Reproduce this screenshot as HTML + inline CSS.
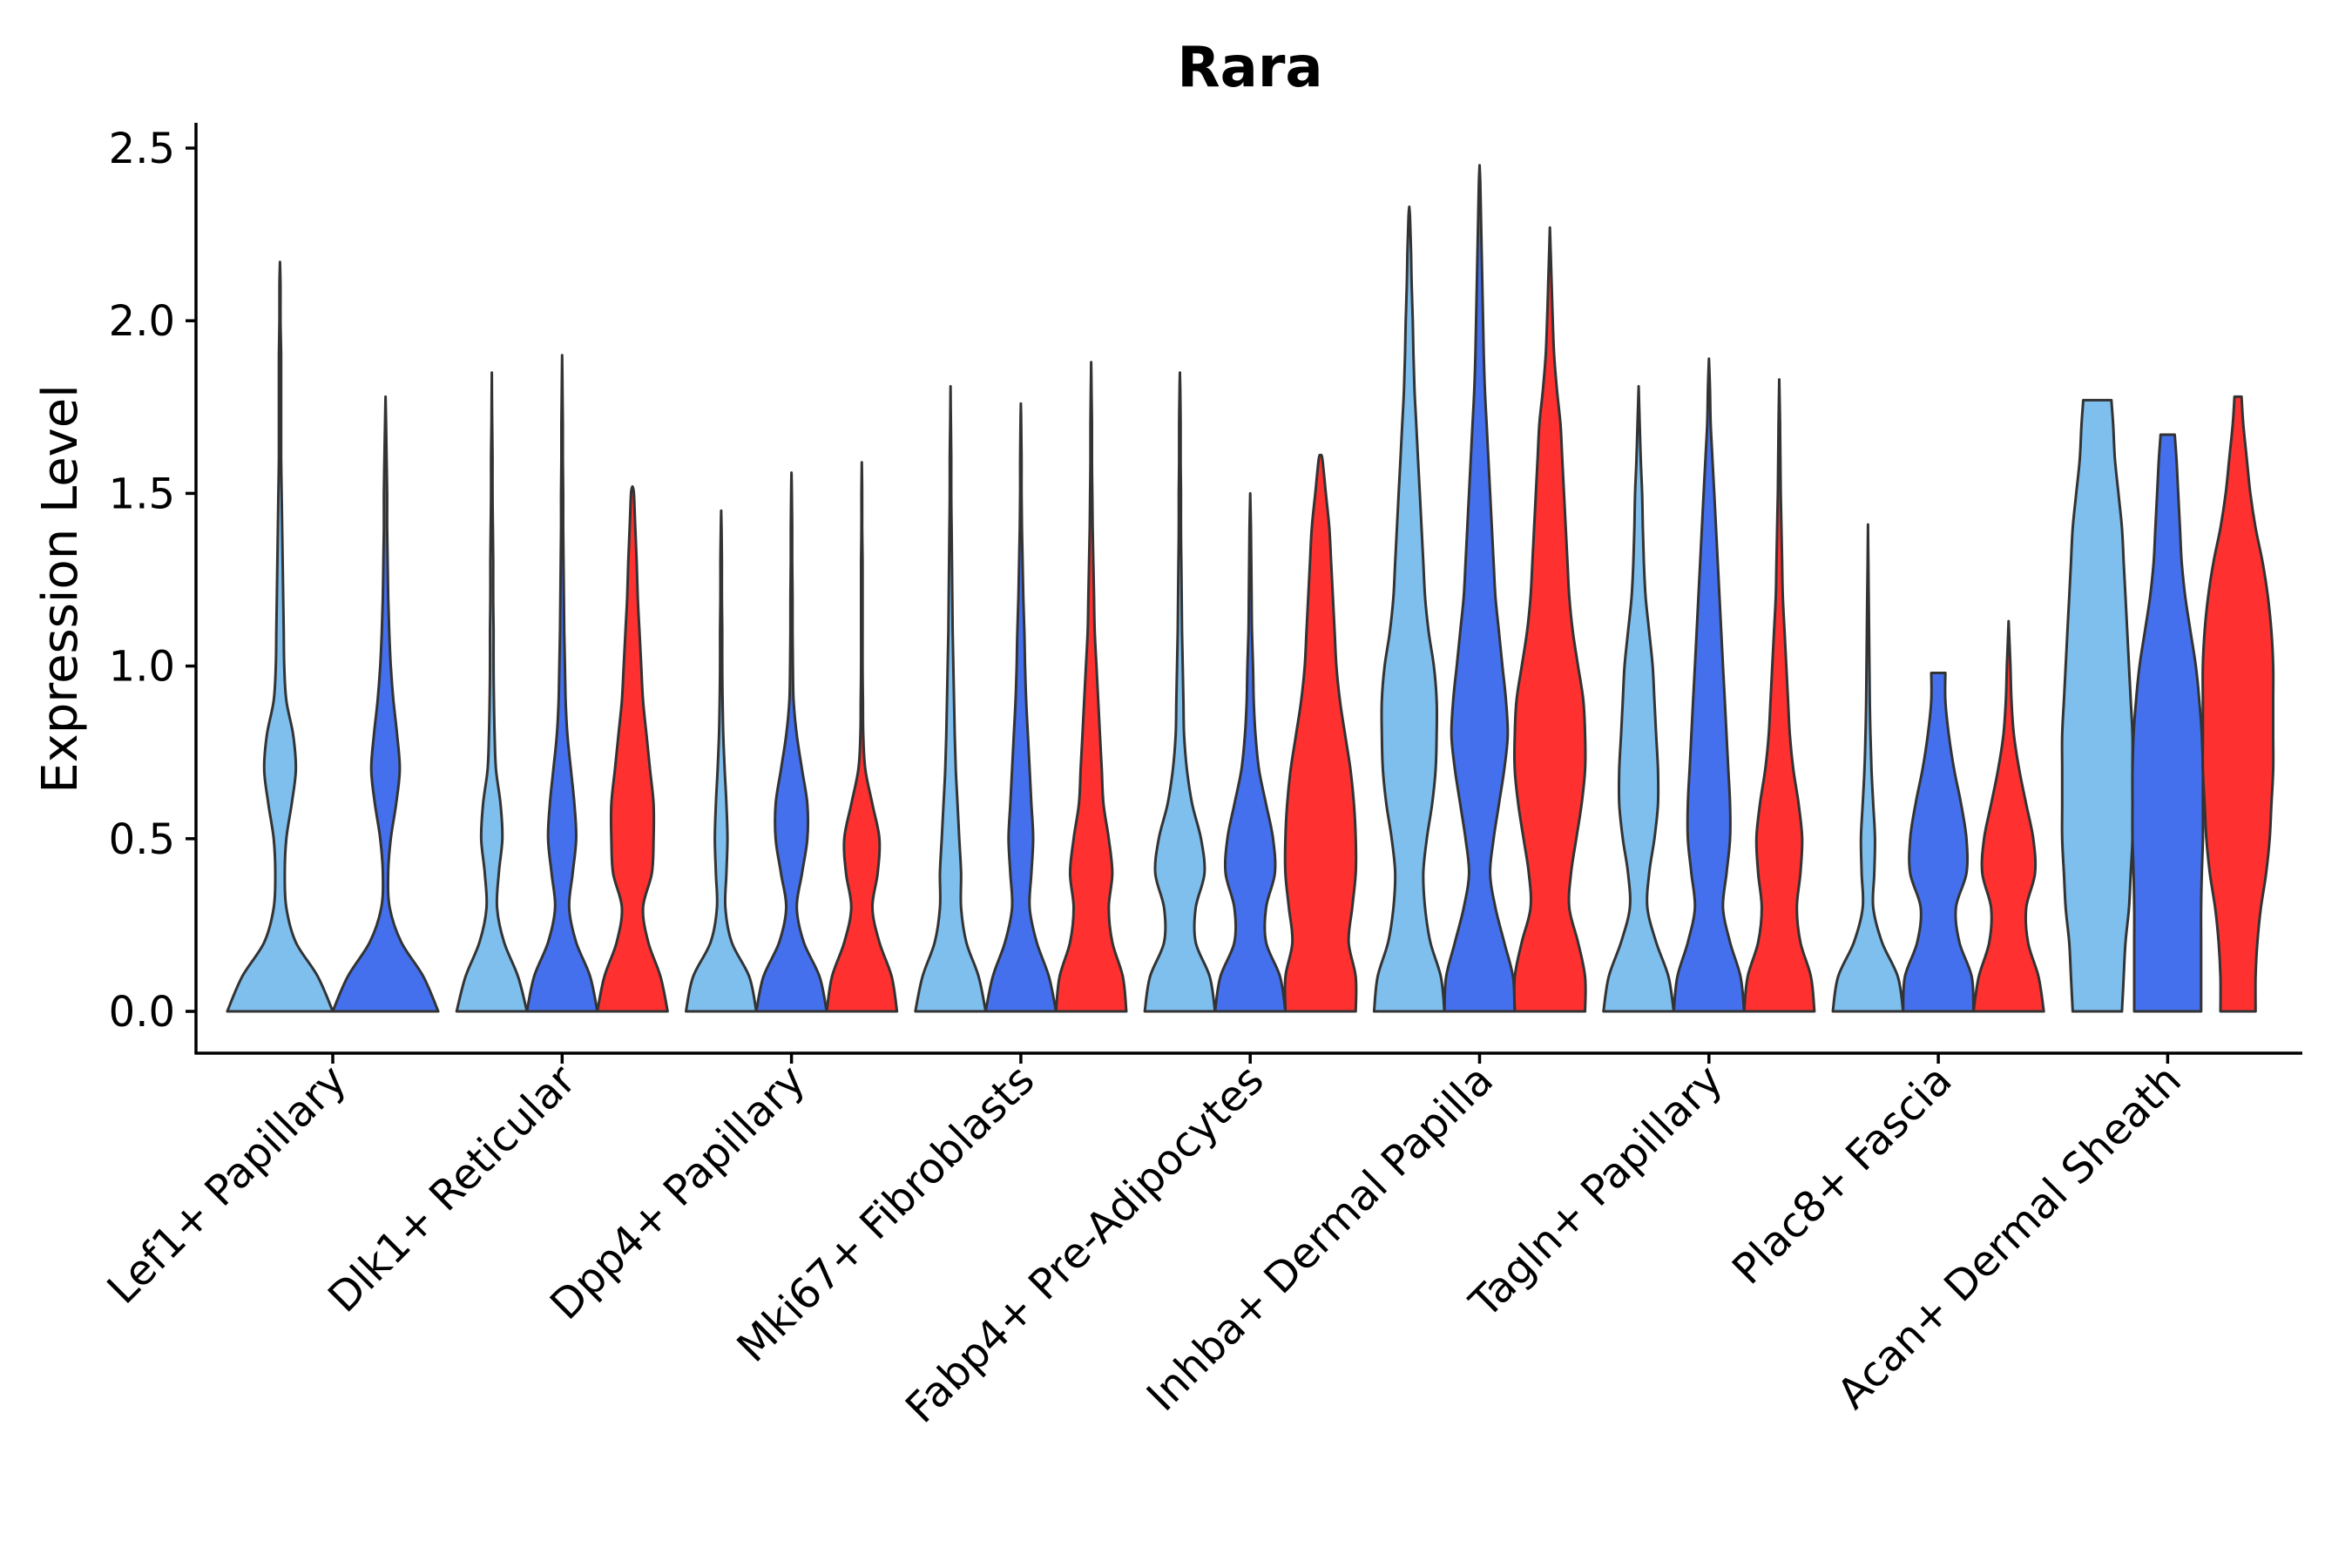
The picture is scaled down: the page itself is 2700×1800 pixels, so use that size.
<!DOCTYPE html>
<html><head><meta charset="utf-8"><style>
html,body{margin:0;padding:0;background:#fff;}
svg{display:block;font-family:"DejaVu Sans","Liberation Sans",sans-serif;}
</style></head><body>
<svg id="chart" width="2700" height="1800" viewBox="0 0 2700 1800">
<text x="1435" y="99" text-anchor="middle" font-size="64" font-weight="bold">Rara</text>
<text transform="translate(88,676) rotate(-90)" text-anchor="middle" font-size="56">Expression Level</text>
<g id="violins"></g>
<g id="axes"></g>
</svg>
<script>
const categories = ["Lef1+ Papillary","Dlk1+ Reticular","Dpp4+ Papillary","Mki67+ Fibroblasts","Fabp4+ Pre-Adipocytes","Inhba+ Dermal Papilla","Tagln+ Papillary","Plac8+ Fascia","Acan+ Dermal Sheath"];
const yTicks = [0,0.5,1.0,1.5,2.0,2.5];
const yTickLabels = ["0.0","0.5","1.0","1.5","2.0","2.5"];
const seriesColors = ["#7fbfee","#4470ee","#ff3030"];
const maxLightBlue = [2.17,1.85,1.45,1.81,1.85,2.33,1.81,1.41,1.77];
const maxBlue = [1.78,1.90,1.56,1.76,1.50,2.45,1.89,0.98,1.67];
const maxRed = [null,1.52,1.59,1.88,1.61,2.27,1.83,1.13,1.78];
const topLightBlue = [0,0,0,0,0,0,0,0,0.4];
const topBlue = [0,0,0,0,0,0,0,0.2,0.2];
const topRed = [0,0,0,0,0,0,0,0,0.1];
const densLightBlue = [
[1,0.72,0.3,0.12,0.09,0.12,0.22,0.3,0.25,0.12,0.08,0.07,0.06,0.05,0.04,0.03,0.02,0.02,0.02,0.02,0.01,0.01],
[1,0.75,0.35,0.15,0.2,0.3,0.25,0.12,0.08,0.06,0.05,0.05,0.04,0.04,0.03,0.02,0.02,0.01],
[1,0.8,0.3,0.12,0.15,0.18,0.15,0.1,0.06,0.04,0.03,0.03,0.02,0.02,0.01],
[1,0.8,0.45,0.3,0.3,0.25,0.2,0.15,0.12,0.1,0.08,0.06,0.05,0.04,0.03,0.02,0.02,0.01],
[1,0.85,0.45,0.45,0.7,0.6,0.35,0.2,0.12,0.1,0.08,0.06,0.05,0.04,0.03,0.03,0.02,0.02,0.01],
[1,0.9,0.6,0.45,0.4,0.5,0.65,0.75,0.78,0.78,0.7,0.55,0.45,0.4,0.35,0.3,0.25,0.2,0.15,0.12,0.1,0.07,0.05,0.02],
[1,0.85,0.5,0.25,0.3,0.45,0.55,0.55,0.5,0.45,0.4,0.3,0.2,0.15,0.12,0.1,0.06,0.03],
[1,0.85,0.4,0.15,0.18,0.2,0.15,0.1,0.07,0.05,0.04,0.03,0.02,0.01],
[0.7,0.75,0.8,0.9,0.95,1.0,1.0,1.0,1.0,0.95,0.9,0.85,0.8,0.75,0.7,0.6,0.5,0.45]];
const densBlue = [
[1,0.72,0.3,0.08,0.05,0.1,0.2,0.27,0.22,0.15,0.1,0.07,0.05,0.04,0.03,0.03,0.02,0.01],
[1,0.8,0.4,0.2,0.3,0.4,0.35,0.25,0.15,0.1,0.08,0.06,0.05,0.04,0.03,0.03,0.02,0.02,0.01],
[1,0.8,0.35,0.15,0.3,0.45,0.45,0.3,0.15,0.06,0.04,0.03,0.03,0.02,0.02,0.01],
[1,0.8,0.45,0.25,0.3,0.35,0.3,0.25,0.2,0.15,0.12,0.1,0.07,0.05,0.03,0.02,0.02,0.01],
[1,0.85,0.45,0.45,0.7,0.65,0.45,0.25,0.15,0.1,0.08,0.05,0.04,0.03,0.02],
[1,0.95,0.7,0.45,0.3,0.4,0.55,0.7,0.8,0.75,0.65,0.55,0.45,0.4,0.35,0.3,0.25,0.2,0.15,0.12,0.1,0.08,0.06,0.04,0.02],
[1,0.9,0.6,0.4,0.5,0.6,0.6,0.55,0.5,0.45,0.4,0.35,0.3,0.25,0.2,0.15,0.1,0.05,0.03],
[1,0.95,0.6,0.5,0.8,0.8,0.65,0.45,0.3,0.2],
[0.95,0.95,0.95,0.95,0.97,1.0,1.0,1.0,0.97,0.9,0.8,0.65,0.5,0.4,0.35,0.3,0.25]];
const densRed = [
null,
[1,0.8,0.45,0.3,0.55,0.6,0.6,0.5,0.4,0.3,0.25,0.2,0.15,0.12,0.08,0.04],
[1,0.85,0.5,0.3,0.45,0.5,0.3,0.1,0.04,0.03,0.02,0.02,0.02,0.02,0.01,0.01],
[1,0.9,0.6,0.5,0.6,0.5,0.35,0.3,0.25,0.2,0.15,0.1,0.08,0.06,0.04,0.03,0.02,0.02,0.01],
[1,1,0.8,0.9,1.0,1.0,0.95,0.85,0.7,0.55,0.45,0.4,0.35,0.3,0.25,0.15,0.05],
[1,1,0.8,0.55,0.6,0.75,0.9,1.0,1.0,0.95,0.8,0.65,0.55,0.5,0.45,0.4,0.35,0.3,0.2,0.12,0.08,0.05,0.02],
[1,0.9,0.6,0.5,0.6,0.65,0.55,0.4,0.3,0.25,0.2,0.15,0.1,0.08,0.06,0.04,0.03,0.02],
[1,0.85,0.55,0.5,0.75,0.7,0.5,0.3,0.15,0.08,0.05],
[0.5,0.5,0.55,0.65,0.8,0.9,0.95,1.0,1.0,1.0,1.0,0.95,0.85,0.7,0.5,0.35,0.25,0.15]];

const NS="http://www.w3.org/2000/svg";
const plotL=225, plotR=2643, axisY=1209, axisTop=141;
const y0=1161, yPerUnit=396.4;
const catStart=382, catStep=263.3;
function yScale(v){return y0 - v*yPerUnit;}
function xScale(i){return catStart + i*catStep;}
function mk(tag,attrs,parent){const e=document.createElementNS(NS,tag);for(const k in attrs)e.setAttribute(k,attrs[k]);parent.appendChild(e);return e;}
function catmull(pts){
  let d="M"+pts[0][0].toFixed(1)+","+pts[0][1].toFixed(1);
  for(let i=0;i<pts.length-1;i++){
    const p0=pts[Math.max(0,i-1)],p1=pts[i],p2=pts[i+1],p3=pts[Math.min(pts.length-1,i+2)];
    const c1=[p1[0]+(p2[0]-p0[0])/6,p1[1]+(p2[1]-p0[1])/6];
    const c2=[p2[0]-(p3[0]-p1[0])/6,p2[1]-(p3[1]-p1[1])/6];
    d+="C"+c1[0].toFixed(1)+","+c1[1].toFixed(1)+" "+c2[0].toFixed(1)+","+c2[1].toFixed(1)+" "+p2[0].toFixed(1)+","+p2[1].toFixed(1);
  }
  return d;
}
const vg=document.getElementById('violins');
const maxes=[maxLightBlue,maxBlue,maxRed], dens=[densLightBlue,densBlue,densRed], tops=[topLightBlue,topBlue,topRed];
const seriesNames=["light-blue","blue","red"];
categories.forEach((c,ci)=>{
  const present=[0,1,2].filter(s=>maxes[s][ci]!=null);
  const n=present.length;
  const slot=(catStep*0.92)/n;
  const halfW=slot*0.5;
  present.forEach((s,k)=>{
    const cx=xScale(ci)-catStep*0.46+slot*(k+0.5);
    const d=dens[s][ci], mx=maxes[s][ci], tw=tops[s][ci];
    const right=[];
    for(let j=0;j<d.length;j++){const v=j*0.1;if(v>=mx)break;right.push([cx+d[j]*halfW,yScale(v)]);}
    right.push([cx+tw*halfW,yScale(mx)]);
    let path=catmull(right);
    const left=right.slice().reverse().map(p=>[2*cx-p[0],p[1]]);
    const lp=catmull(left);
    path+="L"+lp.slice(1)+"Z";
    const p=mk('path',{d:path,fill:seriesColors[s],stroke:"#333",'stroke-width':3,'stroke-linejoin':'round'},vg);
    
    
  });
});
const ag=document.getElementById('axes');
const yl=mk('line',{x1:plotL,y1:axisTop,x2:plotL,y2:axisY,stroke:"#000",'stroke-width':3.5},ag);


const xl=mk('line',{x1:plotL-1.7,y1:axisY,x2:plotR,y2:axisY,stroke:"#000",'stroke-width':3.5},ag);


yTicks.forEach((t,i)=>{
  const y=yScale(t);
  const tl=mk('line',{x1:plotL-12,y1:y,x2:plotL,y2:y,stroke:"#000",'stroke-width':3.5},ag);
  
  
  const tx=mk('text',{x:plotL-24,y:y+17,'text-anchor':'end','font-size':48},ag);
  tx.textContent=yTickLabels[i];
  
  
});
categories.forEach((c,i)=>{
  const x=xScale(i);
  const tl=mk('line',{x1:x,y1:axisY,x2:x,y2:axisY+12,stroke:"#000",'stroke-width':3.5},ag);
  
  
  const tx=mk('text',{transform:`translate(${x+18},${axisY+34}) rotate(-45)`,'text-anchor':'end','font-size':48},ag);
  tx.textContent=c;
  
  
});
</script>
</body></html>
